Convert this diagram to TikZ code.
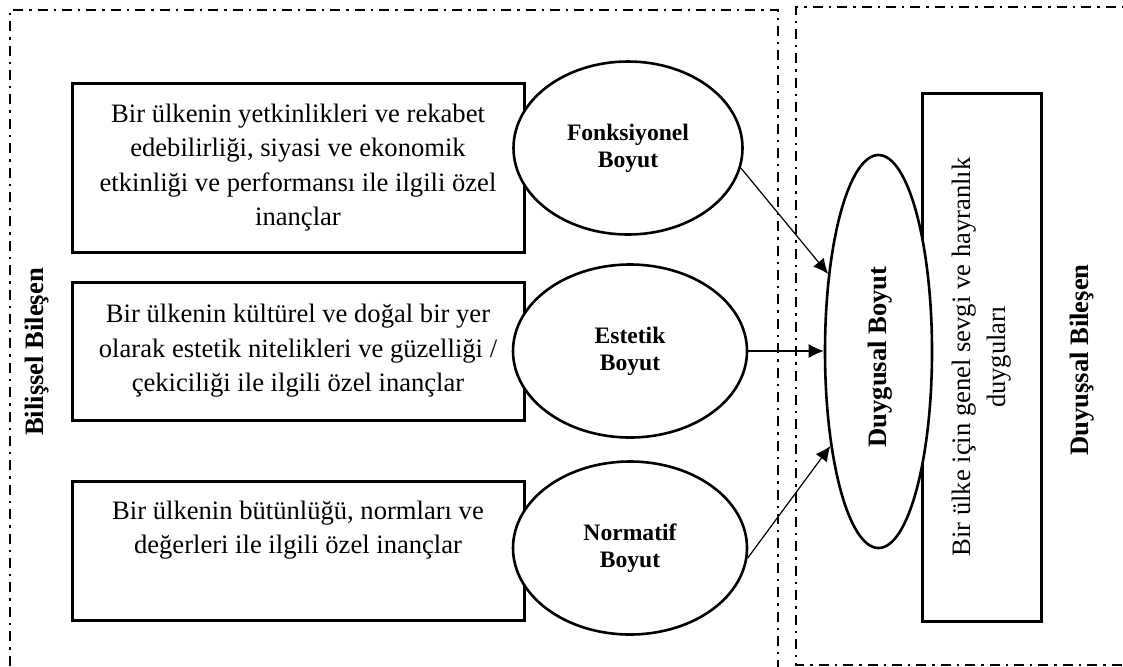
\documentclass[tikz,border=0pt]{standalone}
\usepackage{fontspec}
\setmainfont{Liberation Serif}
\usetikzlibrary{shapes.geometric,arrows.meta}

\begin{document}
\begin{tikzpicture}[x=0.5pt,y=-0.5pt,
  frame/.style={line width=1.2pt, dash pattern=on 5pt off 3pt on 1.2pt off 3pt},
  txt/.style={align=center, font=\fontsize{13.3}{17.3}\selectfont},
  belief/.style={draw, line width=1.5pt, minimum width=226pt, inner sep=0pt},
  dimen/.style={draw, ellipse, fill=white, line width=1.3pt, minimum width=117pt,
    minimum height=86.5pt, inner sep=0pt, align=center,
    font=\fontsize{11.8}{13.5}\selectfont\bfseries},
  comp/.style={rotate=90, font=\fontsize{13.3}{16}\selectfont\bfseries},
  arr/.style={-{Latex[length=7.5pt,width=7pt]}, line width=0.6pt}]
  \useasboundingbox (0,0) rectangle (1123,666);
  \clip (0,0) rectangle (1123,666);
  % ---------- the two component frames ----------
  \draw[frame] (10,690) -- (10,10) -- (778,10) -- (778,690);
  \draw[frame] (1140,7) -- (796,7) -- (796,665) -- (1140,665);
  \node[comp] (bilissel) at (37,352) {Bilişsel Bileşen};
  \node[comp] (duyussal) at (1082,360) {Duyuşsal Bileşen};
  % ---------- cognitive side: beliefs and dimensions ----------
  \node[belief, txt, minimum height=84.5pt] (fonkbox) at (298,167.5)
    {Bir ülkenin yetkinlikleri ve rekabet\\ edebilirliği, siyasi ve ekonomik\\
     etkinliği ve performansı ile ilgili özel\\ inançlar};
  \node[belief, txt, minimum height=69pt] (estbox) at (298,351)
    {Bir ülkenin kültürel ve doğal bir yer\\ olarak estetik nitelikleri ve güzelliği /\\
     çekiciliği ile ilgili özel inançlar};
  \node[belief, minimum height=69.5pt] (normbox) at (298,550.5) {};
  \node[txt] (normtxt) at (298,530)
    {Bir ülkenin bütünlüğü, normları ve\\ değerleri ile ilgili özel inançlar};
  \node[dimen, minimum width=114.5pt] (fonk) at (628,148) {Fonksiyonel\\Boyut};
  \node[dimen] (est) at (630,351) {Estetik\\Boyut};
  \node[dimen] (norm) at (630,548) {Normatif\\Boyut};
  % ---------- affective side ----------
  \node[draw, line width=1.5pt, rotate=90, txt, minimum width=264pt,
    minimum height=59.5pt, inner sep=0pt] (love) at (981.5,357)
    {Bir ülke için genel sevgi ve hayranlık\\ duyguları};
  \node[draw, ellipse, fill=white, line width=1.3pt, minimum width=53.5pt,
    minimum height=196.5pt, inner sep=0pt] (duygu) at (878.5,351.5) {};
  \node[comp] (duygutxt) at (880,357) {Duygusal Boyut};
  % arrows into the affective dimension
  \draw[arr] (fonk.-10) -- (duygu.123);
  \draw[arr] (est.east) -- (est.east -| duygu.west);
  \draw[arr] (norm.-5) -- (duygu.243);
\end{tikzpicture}
\end{document}
